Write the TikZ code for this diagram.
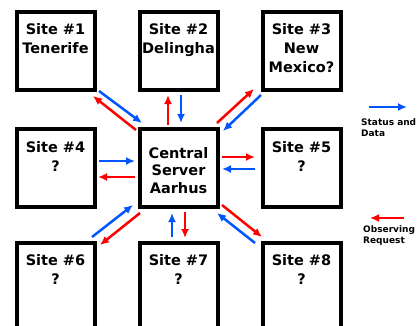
\documentclass[tikz,border=0pt]{standalone}
\usepackage{fontspec}
\setmainfont{DejaVu Sans}
\usepackage{tikz}
\usetikzlibrary{positioning, arrows.meta}

\definecolor{statusblue}{RGB}{0,85,255}
\definecolor{requestred}{RGB}{255,0,0}

\tikzset{
    sitebox/.style={draw=black, line width=4pt, minimum width=78pt, minimum height=78pt, inner sep=0pt},
    sitetext/.style={font=\fontsize{14.5}{19}\selectfont\bfseries, align=center, inner sep=0pt},
    legendtext/.style={font=\fontsize{9}{11}\selectfont\bfseries, align=left, inner sep=0pt, anchor=north west},
    statusarrow/.style={draw=statusblue, line width=2.5pt, -{Latex[length=9pt,width=8pt]}},
    requestarrow/.style={draw=requestred, line width=2.5pt, -{Latex[length=9pt,width=8pt]}}
}

\begin{document}
\begin{tikzpicture}[x=1pt, y=-1pt]
    \useasboundingbox (0,0) rectangle (418,325);

    % boxes
    \node[sitebox] (s1) at (55.5,51) {};
    \node[sitebox] (s2) at (178.5,51) {};
    \node[sitebox] (s3) at (301.5,51) {};
    \node[sitebox] (s4) at (55.5,168) {};
    \node[sitebox] (c)  at (178.5,167.5) {};
    \node[sitebox] (s5) at (301.5,168) {};
    % bottom row runs off the page
    \node[sitebox, minimum height=88pt] (s6) at (55.5,287) {};
    \node[sitebox, minimum height=88pt] (s7) at (178.5,287) {};
    \node[sitebox, minimum height=88pt] (s8) at (301.5,287) {};

    % box texts
    \node[sitetext, below=13.5pt of s1.north] (t1) {Site \#1\\Tenerife};
    \node[sitetext, below=13pt of s2.north] (t2) {Site \#2\\Delingha};
    \node[sitetext, below=13pt of s3.north] (t3) {Site \#3\\New\\Mexico?};
    \node[sitetext, below=14pt of s4.north] (t4) {Site \#4\\?};
    \node[sitetext, below=20.5pt of c.north, font=\fontsize{14.5}{17.5}\selectfont\bfseries] (tc) {Central\\Server\\Aarhus};
    \node[sitetext, below=14pt of s5.north] (t5) {Site \#5\\?};
    \node[sitetext, below=13pt of s6.north] (t6) {Site \#6\\?};
    \node[sitetext, below=13pt of s7.north] (t7) {Site \#7\\?};
    \node[sitetext, below=13pt of s8.north] (t8) {Site \#8\\?};

    % site 1
    \draw[statusarrow] ([shift={(2.5,-1)}]s1.south east) -- ([shift={(4.5,-3.5)}]c.north west);
    \draw[requestarrow] ([shift={(-1.5,3.5)}]c.north west) -- ([shift={(-3.5,4)}]s1.south east);
    % site 2
    \draw[requestarrow] ([shift={(-10.5,-1.5)}]c.north) -- ([shift={(-10.5,3)}]s2.south);
    \draw[statusarrow] ([shift={(2.5,3)}]s2.south) -- ([shift={(2.5,-3.5)}]c.north);
    % site 3
    \draw[requestarrow] ([shift={(-2.5,-3.5)}]c.north east) -- ([shift={(-6.5,-3)}]s3.south west);
    \draw[statusarrow] ([shift={(0.5,3)}]s3.south west) -- ([shift={(3.5,4.5)}]c.north east);
    % site 4
    \draw[statusarrow] ([shift={(2.5,-7)}]s4.east) -- ([shift={(-2.5,-6.5)}]c.west);
    \draw[requestarrow] ([shift={(-2.5,9.5)}]c.west) -- ([shift={(1.5,9)}]s4.east);
    % site 5
    \draw[requestarrow] ([shift={(2.5,-10.5)}]c.east) -- ([shift={(-5.5,-11)}]s5.west);
    \draw[statusarrow] ([shift={(-5.5,1)}]s5.west) -- ([shift={(2.5,1.5)}]c.east);
    % site 6
    \draw[statusarrow] ([shift={(-4.5,-4)}]s6.north east) -- ([shift={(-4.5,-3.5)}]c.south west);
    \draw[requestarrow] ([shift={(2.5,4.5)}]c.south west) -- ([shift={(3.5,4)}]s6.north east);
    % site 7
    \draw[statusarrow] ([shift={(-6.5,-4)}]s7.north) -- ([shift={(-6.5,4.5)}]c.south);
    \draw[requestarrow] ([shift={(6.5,3.5)}]c.south) -- ([shift={(6.5,-3)}]s7.north);
    % site 8
    \draw[requestarrow] ([shift={(2.5,-3.5)}]c.south east) -- ([shift={(1.5,-4)}]s8.north west);
    \draw[statusarrow] ([shift={(-5.5,2)}]s8.north west) -- ([shift={(-2.5,4.5)}]c.south east);

    % legend
    \coordinate (l1a) at (369,107);
    \coordinate (l1b) at (407,107);
    \coordinate (l2a) at (404,218);
    \coordinate (l2b) at (370,218);
    \draw[statusarrow] (l1a) -- (l1b);
    \node[legendtext] (lt1) at (361,118.5) {Status and\\Data};
    \draw[requestarrow] (l2a) -- (l2b);
    \node[legendtext] (lt2) at (363,225) {Observing\\Request};
\end{tikzpicture}
\end{document}
